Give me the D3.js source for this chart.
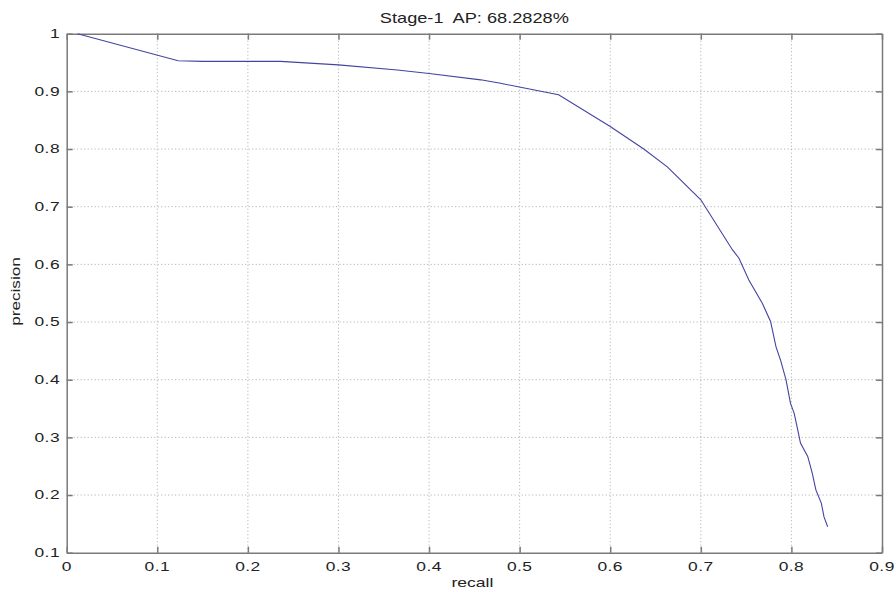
<!DOCTYPE html>
<html>
<head>
<meta charset="utf-8">
<script src="https://cdn.jsdelivr.net/npm/d3@7/dist/d3.min.js"></script>
<style>
html,body{margin:0;padding:0;background:#fff;}
svg{display:block;}
text{font-family:"Liberation Sans",Arial,Helvetica,sans-serif;fill:#222;}
</style>
</head>
<body>
<svg id="chart" width="896" height="592"></svg>
<script>
const titleText = "Stage-1  AP: 68.2828%";
const xLabel = "recall";
const yLabel = "precision";
const xTicks = [0, 0.1, 0.2, 0.3, 0.4, 0.5, 0.6, 0.7, 0.8, 0.9];
const yTicks = [0.1, 0.2, 0.3, 0.4, 0.5, 0.6, 0.7, 0.8, 0.9, 1];
const xTickLabels = ["0", "0.1", "0.2", "0.3", "0.4", "0.5", "0.6", "0.7", "0.8", "0.9"];
const yTickLabels = ["0.1", "0.2", "0.3", "0.4", "0.5", "0.6", "0.7", "0.8", "0.9", "1"];

const recall = [0.012, 0.123, 0.151, 0.236, 0.300, 0.365, 0.400, 0.457, 0.479, 0.501, 0.543,
  0.600, 0.637, 0.663, 0.700, 0.735, 0.742, 0.753, 0.768, 0.777, 0.783, 0.788, 0.794,
  0.799, 0.803, 0.807, 0.810, 0.818, 0.823, 0.827, 0.833, 0.836, 0.840];
const precision = [1.000, 0.953, 0.952, 0.952, 0.946, 0.937, 0.931, 0.920, 0.914, 0.907, 0.894,
  0.839, 0.800, 0.769, 0.712, 0.625, 0.611, 0.573, 0.532, 0.501, 0.457, 0.434, 0.400,
  0.359, 0.342, 0.313, 0.290, 0.267, 0.238, 0.209, 0.186, 0.162, 0.145];

const svg = d3.select("#chart");
const L = 66.7, R = 882, T = 33.7, B = 552.7;
const x = d3.scaleLinear().domain([0, 0.9]).range([L, R]);
const y = d3.scaleLinear().domain([0.1, 1]).range([B, T]);

const axisColor = "#7a7a7a";
const gridColor = "#a8a8a8";

// grid
const grid = svg.append("g");
grid.selectAll(".gx").data(xTicks.slice(1, -1)).enter().append("line")
  .attr("x1", d => x(d)).attr("x2", d => x(d)).attr("y1", T).attr("y2", B)
  .attr("stroke", gridColor).attr("stroke-width", 1).attr("stroke-dasharray", "1,2.5");
grid.selectAll(".gy").data(yTicks.slice(1, -1)).enter().append("line")
  .attr("y1", d => y(d)).attr("y2", d => y(d)).attr("x1", L).attr("x2", R)
  .attr("stroke", gridColor).attr("stroke-width", 1).attr("stroke-dasharray", "1,2.5");

// axes (ticks inward)
function styleAxis(g) {
  g.selectAll("path").attr("stroke", axisColor).attr("stroke-width", 1.5);
  g.selectAll("line").attr("stroke", axisColor).attr("stroke-width", 1.5);
  g.selectAll("text").remove();
}
svg.append("g").attr("transform", `translate(0,${B})`)
  .call(d3.axisBottom(x).tickValues(xTicks).tickSizeInner(-6).tickSizeOuter(0)).call(styleAxis);
svg.append("g").attr("transform", `translate(0,${T})`)
  .call(d3.axisTop(x).tickValues(xTicks).tickSizeInner(-6).tickSizeOuter(0)).call(styleAxis);
svg.append("g").attr("transform", `translate(${L},0)`)
  .call(d3.axisLeft(y).tickValues(yTicks).tickSizeInner(-6).tickSizeOuter(0)).call(styleAxis);
svg.append("g").attr("transform", `translate(${R},0)`)
  .call(d3.axisRight(y).tickValues(yTicks).tickSizeInner(-6).tickSizeOuter(0)).call(styleAxis);
svg.selectAll(".domain").attr("stroke", axisColor);

// tick labels (font rendered wide in the reference, so stretch horizontally)
const sx = 1.45;
svg.append("g").selectAll("text").data(xTicks).enter().append("text")
  .attr("transform", d => `translate(${x(d)},570.7) scale(${sx},1)`)
  .attr("text-anchor", "middle").attr("font-size", 12).attr("letter-spacing", 0.3)
  .text((d, i) => xTickLabels[i]);
svg.append("g").selectAll("text").data(yTicks).enter().append("text")
  .attr("transform", d => `translate(60,${y(d)}) scale(${sx},1)`)
  .attr("text-anchor", "end").attr("dy", "0.36em").attr("font-size", 12).attr("letter-spacing", 0.3)
  .text((d, i) => yTickLabels[i]);

// curve
const line = d3.line().x(d => x(d[0])).y(d => y(d[1]));
svg.append("path").datum(d3.zip(recall, precision))
  .attr("d", line).attr("fill", "none").attr("stroke", "#4444a0").attr("stroke-width", 1.1);

// title & labels
svg.append("text").attr("transform", `translate(${(L + R) / 2},23) scale(1.3,1)`)
  .attr("text-anchor", "middle").attr("font-size", 14).style("white-space", "pre")
  .text(titleText);
svg.append("text").attr("transform", `translate(${(L + R) / 2 - 2},587) scale(1.35,1)`)
  .attr("text-anchor", "middle").attr("font-size", 13).text(xLabel);
svg.append("text").attr("transform", `translate(20,291.5) rotate(-90) scale(1.32,1)`)
  .attr("text-anchor", "middle").attr("font-size", 13).text(yLabel);
</script>
</body>
</html>
